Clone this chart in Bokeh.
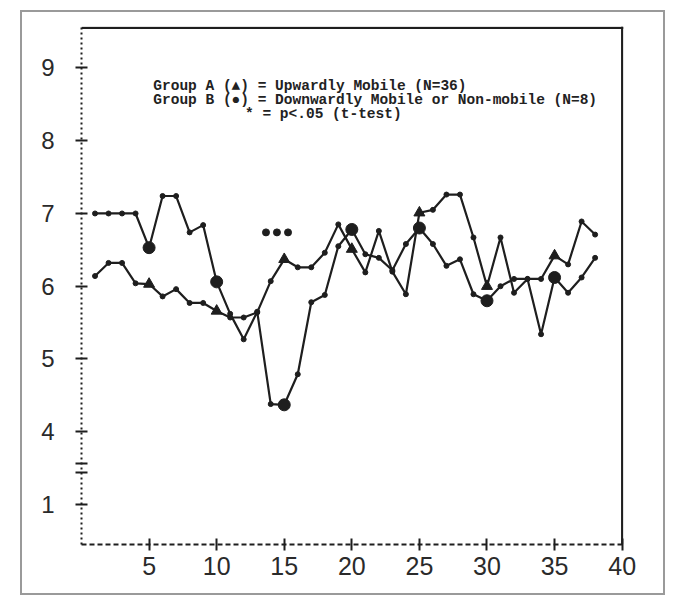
from bokeh.plotting import figure
from bokeh.models import FixedTicker, Span, Label
from bokeh.embed import file_html
from bokeh.resources import INLINE

# ---- data ----
item = list(range(1, 39))
group_a = [6.14, 6.32, 6.32, 6.04, 6.03, 5.86, 5.96, 5.77, 5.77, 5.66,
           5.57, 5.57, 5.64, 6.07, 6.37, 6.26, 6.26, 6.46, 6.85, 6.51,
           6.19, 6.76, 6.20, 5.89, 7.01, 7.05, 7.26, 7.26, 6.67, 6.00,
           6.67, 5.91, 6.10, 6.10, 6.42, 6.30, 6.89, 6.71]
group_b = [7.00, 7.00, 7.00, 7.00, 6.53, 7.24, 7.24, 6.74, 6.84, 6.06,
           5.62, 5.27, 5.65, 4.38, 4.37, 4.79, 5.78, 5.88, 6.55, 6.78,
           6.44, 6.39, 6.22, 6.58, 6.80, 6.58, 6.28, 6.37, 5.89, 5.80,
           6.00, 6.10, 6.10, 5.34, 6.12, 5.91, 6.12, 6.39]
marked_items = [5, 10, 15, 20, 25, 30, 35]
sig_x = [13.65, 14.46, 15.28]
sig_y = [6.74, 6.74, 6.74]
x_ticks = [5, 10, 15, 20, 25, 30, 35, 40]
y_ticks = [3, 3.44, 3.56, 4, 5, 6, 7, 8, 9]
y_tick_labels = {3: "1", 3.44: "", 3.56: ""}
legend_a = "Group A (\u25b2) = Upwardly Mobile (N=36)"
legend_b = "Group B (\u25cf) = Downwardly Mobile or Non-mobile (N=8)"
legend_sig = "* = p<.05 (t-test)"

ink = "#1e1e1e"

p = figure(width=645, height=585, x_range=(0, 40.1), y_range=(2.45, 9.57),
           output_backend="svg", toolbar_location=None,
           min_border_left=59, min_border_right=44, min_border_top=14, min_border_bottom=53,
           background_fill_color="white", border_fill_color="white",
           styles={"margin-left": "20px", "margin-top": "10px", "border": "2px solid #9a9a9a"})
p.grid.visible = False
p.outline_line_color = None

# frame top and right lines
p.add_layout(Span(location=40, dimension="height", line_color=ink, line_width=2.2))
p.add_layout(Span(location=9.55, dimension="width", line_color=ink, line_width=2.2))

# x axis
xa = p.xaxis[0]
xa.ticker = FixedTicker(ticks=x_ticks)
xa.axis_line_dash = "5 3"
xa.axis_line_width = 2
xa.axis_line_color = ink
xa.major_tick_in = 6
xa.major_tick_out = 6
xa.major_tick_line_width = 2
xa.major_tick_line_color = ink
xa.minor_tick_line_color = None
xa.major_label_text_font = "Liberation Sans"
xa.major_label_text_font_size = "25px"
xa.major_label_text_color = "#2a2a2a"
xa.major_label_standoff = 6

# y axis (the two close ticks at 3.44/3.56 form the axis-break mark)
ya = p.yaxis[0]
ya.ticker = FixedTicker(ticks=y_ticks)
ya.major_label_overrides = y_tick_labels
ya.axis_line_dash = "2 3"
ya.axis_line_width = 2
ya.axis_line_color = ink
ya.major_tick_in = 6
ya.major_tick_out = 6
ya.major_tick_line_width = 2
ya.major_tick_line_color = ink
ya.minor_tick_line_color = None
ya.major_label_text_font = "Liberation Sans"
ya.major_label_text_font_size = "24px"
ya.major_label_text_color = "#2a2a2a"
ya.major_label_standoff = 21

# series lines and point marks
p.line(item, group_a, line_color=ink, line_width=2.2)
p.line(item, group_b, line_color=ink, line_width=2.2)
p.scatter(item, group_a, size=5, color=ink)
p.scatter(item, group_b, size=5, color=ink)

a_marks = [group_a[item.index(k)] for k in marked_items]
b_marks = [group_b[item.index(k)] for k in marked_items]
p.scatter(marked_items, a_marks, marker="triangle", size=11, color=ink)
p.scatter(marked_items, b_marks, marker="circle", size=12, color=ink)

# significance marks
p.scatter(sig_x, sig_y, size=7, color=ink)

# legend text
for txt, xx, yy in [(legend_a, 5.31, 8.75), (legend_b, 5.31, 8.56), (legend_sig, 12.1, 8.37)]:
    p.add_layout(Label(x=xx, y=yy, text=txt, text_font="Liberation Mono",
                       text_font_size="14.5px", text_font_style="bold",
                       text_color="#222222", text_baseline="middle", text_align="left"))

open("out.html", "w").write(file_html(p, INLINE))
